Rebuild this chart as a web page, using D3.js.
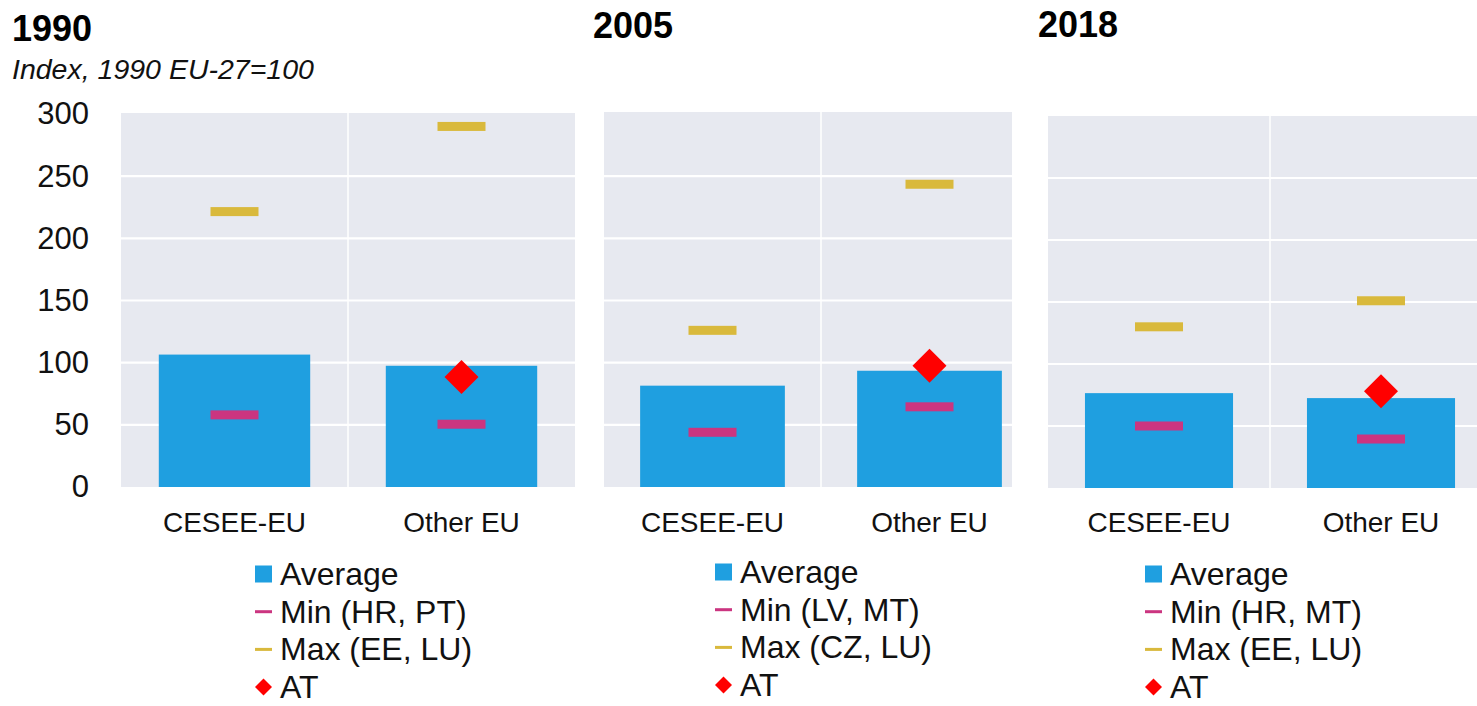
<!DOCTYPE html>
<html>
<head>
<meta charset="utf-8">
<script src="https://cdn.jsdelivr.net/npm/d3@7"></script>
<style>
  body { margin: 0; background: #fff; }
  svg { display: block; font-family: Arial, "Liberation Sans", sans-serif; }
</style>
</head>
<body>
<script>
(function(){

  //chart data
  var years = ["1990", "2005", "2018"];
  var groups = ["CESEE-EU", "Other EU"];
  var avgVals = [[106.5, 97.5], [81.5, 93.5], [76.5, 72.5]];
  var minVals = [[58, 50.5], [44, 64.5], [50, 39.5]];
  var maxVals = [[221.5, 290], [126, 243.5], [130, 151]];
  var atVals = [88.5, 97.5, 78]; //AT only plotted in "Other EU"
  var minLabels = ["Min (HR, PT)", "Min (LV, MT)", "Min (HR, MT)"];
  var maxLabels = ["Max (EE, LU)", "Max (CZ, LU)", "Max (EE, LU)"];
  var yTicks = [0, 50, 100, 150, 200, 250, 300];

  //colours
  var bgColor = "#e7e9f0",
      avgColor = "#1f9fe0",
      minColor = "#cb3580",
      maxColor = "#d9b93c",
      atColor = "#ff0000";

  //panel layout (pixel positions)
  var panels = [
      {x0: 121, x1: 575, clip: 575, y0: 487, y1: 114, top: 113, titleX: 12, titleY: 41, legX: 255, legY: 585},
      {x0: 604, x1: 1038, clip: 1012, y0: 487, y1: 114, top: 112, titleX: 593, titleY: 38, legX: 715, legY: 583},
      {x0: 1048, x1: 1492, clip: 1492, y0: 488, y1: 116, top: 116, titleX: 1038, titleY: 37, legX: 1145, legY: 585}
  ];

  var width = 1477, height = 706;

  var svg = d3.select("body")
      .append("svg")
      .attr("width", width)
      .attr("height", height);

  //subtitle
  svg.append("text")
      .attr("x", 12)
      .attr("y", 79)
      .style("font-size", "28.5px")
      .style("font-style", "italic")
      .attr("fill", "#111")
      .text("Index, 1990 EU-27=100");

  panels.forEach(function(p, k){

      var x = d3.scaleBand()
          .domain(groups)
          .range([p.x0, p.x1]);

      var y = d3.scaleLinear()
          .domain([0, 300])
          .range([p.y0, p.y1]);

      var g = svg.append("g").attr("class", "panel");

      //clip panel to visible region
      var clipId = "clip" + k;
      svg.append("clipPath")
          .attr("id", clipId)
          .append("rect")
          .attr("x", p.x0)
          .attr("y", 0)
          .attr("width", p.clip - p.x0)
          .attr("height", height);

      var plot = g.append("g").attr("clip-path", "url(#" + clipId + ")");

      //plot background
      plot.append("rect")
          .attr("x", p.x0)
          .attr("y", p.top)
          .attr("width", p.x1 - p.x0)
          .attr("height", y(0) - p.top)
          .attr("fill", bgColor);

      //horizontal gridlines
      plot.selectAll(".grid")
          .data(yTicks.slice(1, -1))
          .enter()
          .append("line")
          .attr("x1", p.x0)
          .attr("x2", p.x1)
          .attr("y1", function(d){ return y(d); })
          .attr("y2", function(d){ return y(d); })
          .attr("stroke", "#fff")
          .attr("stroke-width", 2.2);

      //vertical separator between categories
      plot.append("line")
          .attr("x1", x(groups[1]))
          .attr("x2", x(groups[1]))
          .attr("y1", p.top)
          .attr("y2", y(0))
          .attr("stroke", "#fff")
          .attr("stroke-width", 1.5);

      var barW = x.bandwidth() * 0.667;
      var markW = 48, markH = 9;

      //average bars
      plot.selectAll(".bar")
          .data(avgVals[k])
          .enter()
          .append("rect")
          .attr("x", function(d, i){ return x(groups[i]) + (x.bandwidth() - barW) / 2; })
          .attr("y", function(d){ return y(d); })
          .attr("width", barW)
          .attr("height", function(d){ return y(0) - y(d); })
          .attr("fill", avgColor);

      //min markers
      plot.selectAll(".minMark")
          .data(minVals[k])
          .enter()
          .append("rect")
          .attr("x", function(d, i){ return x(groups[i]) + x.bandwidth() / 2 - markW / 2; })
          .attr("y", function(d){ return y(d) - markH / 2; })
          .attr("width", markW)
          .attr("height", markH)
          .attr("fill", minColor);

      //max markers
      plot.selectAll(".maxMark")
          .data(maxVals[k])
          .enter()
          .append("rect")
          .attr("x", function(d, i){ return x(groups[i]) + x.bandwidth() / 2 - markW / 2; })
          .attr("y", function(d){ return y(d) - markH / 2; })
          .attr("width", markW)
          .attr("height", markH)
          .attr("fill", maxColor);

      //AT diamond
      var diamond = d3.symbol().type(d3.symbolSquare).size(24 * 24);
      plot.append("path")
          .attr("d", diamond)
          .attr("transform", "translate(" + (x(groups[1]) + x.bandwidth() / 2) + "," + y(atVals[k]) + ") rotate(45)")
          .attr("fill", atColor);

      //category labels
      g.selectAll(".xlab")
          .data(groups)
          .enter()
          .append("text")
          .attr("x", function(d){ return x(d) + x.bandwidth() / 2; })
          .attr("y", 532)
          .attr("text-anchor", "middle")
          .style("font-size", "28px")
          .attr("fill", "#111")
          .text(function(d){ return d; });

      //y axis only on first panel
      if (k === 0){
          var yAxis = d3.axisLeft(y)
              .tickValues(yTicks)
              .tickSize(0)
              .tickPadding(32);
          var ax = svg.append("g")
              .attr("transform", "translate(" + p.x0 + ",0)")
              .call(yAxis);
          ax.select(".domain").remove();
          ax.selectAll("text")
              .style("font-size", "31px")
              .style("font-family", "Arial, 'Liberation Sans', sans-serif")
              .attr("fill", "#111");
      }

      //panel title
      svg.append("text")
          .attr("x", p.titleX)
          .attr("y", p.titleY)
          .style("font-size", "36px")
          .style("font-weight", "bold")
          .attr("fill", "#000")
          .text(years[k]);

      //legend
      var legItems = [
          {label: "Average", type: "square", color: avgColor},
          {label: minLabels[k], type: "line", color: minColor},
          {label: maxLabels[k], type: "line", color: maxColor},
          {label: "AT", type: "diamond", color: atColor}
      ];
      var rowH = 37.7;
      var leg = svg.append("g")
          .attr("transform", "translate(" + p.legX + "," + p.legY + ")");

      legItems.forEach(function(item, j){
          var cy = j * rowH - 11;
          if (item.type === "square"){
              leg.append("rect")
                  .attr("x", 0).attr("y", cy - 8.5)
                  .attr("width", 17).attr("height", 17)
                  .attr("fill", item.color);
          } else if (item.type === "line"){
              leg.append("rect")
                  .attr("x", 0).attr("y", cy - 1.5)
                  .attr("width", 17).attr("height", 3)
                  .attr("fill", item.color);
          } else {
              leg.append("path")
                  .attr("d", d3.symbol().type(d3.symbolSquare).size(12 * 12))
                  .attr("transform", "translate(8.5," + cy + ") rotate(45)")
                  .attr("fill", item.color);
          }
          leg.append("text")
              .attr("x", 25)
              .attr("y", j * rowH)
              .style("font-size", "32px")
              .attr("fill", "#111")
              .text(item.label);
      });
  });

})();
</script>
</body>
</html>
